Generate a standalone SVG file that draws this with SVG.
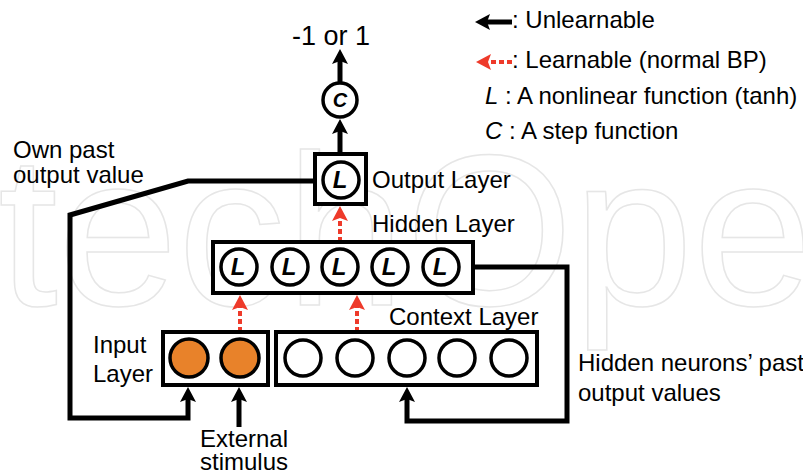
<svg xmlns="http://www.w3.org/2000/svg" width="803" height="475" viewBox="0 0 803 475">
  <style>
    text { font-family: "Liberation Sans", Arial, sans-serif; fill: #000; }
    .lbl { font-size: 24px; }
    .big { font-size: 27px; }
    .fn { font-size: 24px; font-weight: bold; font-style: italic; text-anchor: middle; }
    .fnC { font-size: 20px; font-weight: bold; font-style: italic; text-anchor: middle; }
    .box { fill: #fff; stroke: #000; stroke-width: 4; }
    .unit { fill: #fff; stroke: #000; stroke-width: 3.5; }
    .in { fill: #e8822a; stroke: #000; stroke-width: 3.5; }
    .fixed { fill: none; stroke: #000; stroke-width: 5; stroke-linejoin: miter; marker-end: url(#ahBlack); }
    .learn { fill: none; stroke: #ee3a2a; stroke-width: 4; stroke-dasharray: 5 3; marker-end: url(#ahRed); }
    .wm { font-size: 215px; fill: none; stroke: #e6e6e6; stroke-width: 1.5; }
  </style>
  <defs>
    <marker id="ahBlack" markerUnits="userSpaceOnUse" markerWidth="20" markerHeight="20" viewBox="-2 -10 20 20" refX="3" refY="0" orient="auto">
      <path d="M0,-8 L15,0 L0,8 L3,0 Z" fill="#000"/>
    </marker>
    <marker id="ahRed" markerUnits="userSpaceOnUse" markerWidth="20" markerHeight="20" viewBox="-2 -10 20 20" refX="3" refY="0" orient="auto">
      <path d="M0,-8 L15,0 L0,8 L3,0 Z" fill="#ee3a2a"/>
    </marker>
  </defs>

  <rect width="803" height="475" fill="#fff"/>
  <!-- faint publisher mark behind the diagram -->
  <text class="wm" x="-2" y="305" textLength="815" lengthAdjust="spacingAndGlyphs">techOpe</text>

  <!-- legend -->
  <g id="legend">
    <line x1="512" y1="22" x2="487" y2="22" class="fixed"/>
    <text class="lbl" x="512" y="28">: Unlearnable</text>
    <line x1="512" y1="62" x2="488" y2="62" class="learn"/>
    <text class="lbl" x="512" y="68">: Learnable (normal BP)</text>
    <text class="lbl" x="485" y="104"><tspan font-style="italic">L</tspan> : A nonlinear function (tanh)</text>
    <text class="lbl" x="485" y="139"><tspan font-style="italic">C</tspan> : A step function</text>
  </g>

  <!-- connectors -->
  <g id="connectors">
    <line x1="340" y1="83" x2="340" y2="61" class="fixed"/>
    <line x1="340" y1="154" x2="340" y2="131" class="fixed"/>
    <line x1="340" y1="242" x2="340" y2="218" class="learn"/>
    <line x1="240" y1="332" x2="240" y2="307" class="learn"/>
    <line x1="357" y1="332" x2="357" y2="307" class="learn"/>
    <path d="M315,181 L188,181 L70,215 L70,418 L188,418 L188,399" class="fixed"/>
    <line x1="239" y1="427" x2="239" y2="399" class="fixed"/>
    <path d="M473,267 L567,267 L567,421 L407,421 L407,399" class="fixed"/>
  </g>

  <!-- step unit -->
  <g id="step-unit">
    <circle cx="340" cy="100" r="17" class="unit"/>
    <text class="fnC" x="340" y="107">C</text>
    <text class="big" x="292" y="45">-1 or 1</text>
  </g>

  <!-- output layer -->
  <g id="output-layer">
    <rect x="315" y="154" width="51" height="50" class="box"/>
    <circle cx="341" cy="180" r="18" class="unit"/>
    <text class="fn" x="340" y="188">L</text>
    <text class="lbl" x="372" y="188">Output Layer</text>
  </g>

  <!-- hidden layer -->
  <g id="hidden-layer">
    <rect x="213" y="242" width="260" height="51" class="box"/>
    <circle cx="239" cy="267" r="18" class="unit"/>
    <circle cx="290" cy="267" r="18" class="unit"/>
    <circle cx="340" cy="267" r="18" class="unit"/>
    <circle cx="390" cy="267" r="18" class="unit"/>
    <circle cx="441" cy="267" r="18" class="unit"/>
    <text class="fn" x="238" y="275">L</text>
    <text class="fn" x="289" y="275">L</text>
    <text class="fn" x="339" y="275">L</text>
    <text class="fn" x="389" y="275">L</text>
    <text class="fn" x="440" y="275">L</text>
    <text class="lbl" x="372" y="232">Hidden Layer</text>
  </g>

  <!-- input layer -->
  <g id="input-layer">
    <rect x="163" y="332" width="105" height="53" class="box"/>
    <circle cx="189" cy="358" r="19" class="in"/>
    <circle cx="240" cy="358" r="19" class="in"/>
    <text class="lbl" x="93" y="353">Input</text>
    <text class="lbl" x="93" y="382">Layer</text>
  </g>

  <!-- context layer -->
  <g id="context-layer">
    <rect x="276" y="332" width="261" height="53" class="box"/>
    <circle cx="303" cy="358" r="18" class="unit"/>
    <circle cx="355" cy="358" r="18" class="unit"/>
    <circle cx="407" cy="358" r="18" class="unit"/>
    <circle cx="457" cy="358" r="18" class="unit"/>
    <circle cx="509" cy="358" r="18" class="unit"/>
    <text class="lbl" x="389" y="325">Context Layer</text>
  </g>

  <!-- annotations -->
  <g id="notes">
    <text class="lbl" x="13" y="158">Own past</text>
    <text class="lbl" x="13" y="183">output value</text>
    <text class="lbl" x="200" y="447">External</text>
    <text class="lbl" x="200" y="470">stimulus</text>
    <text class="lbl" x="578" y="371">Hidden neurons’ past</text>
    <text class="lbl" x="578" y="401">output values</text>
  </g>
</svg>
